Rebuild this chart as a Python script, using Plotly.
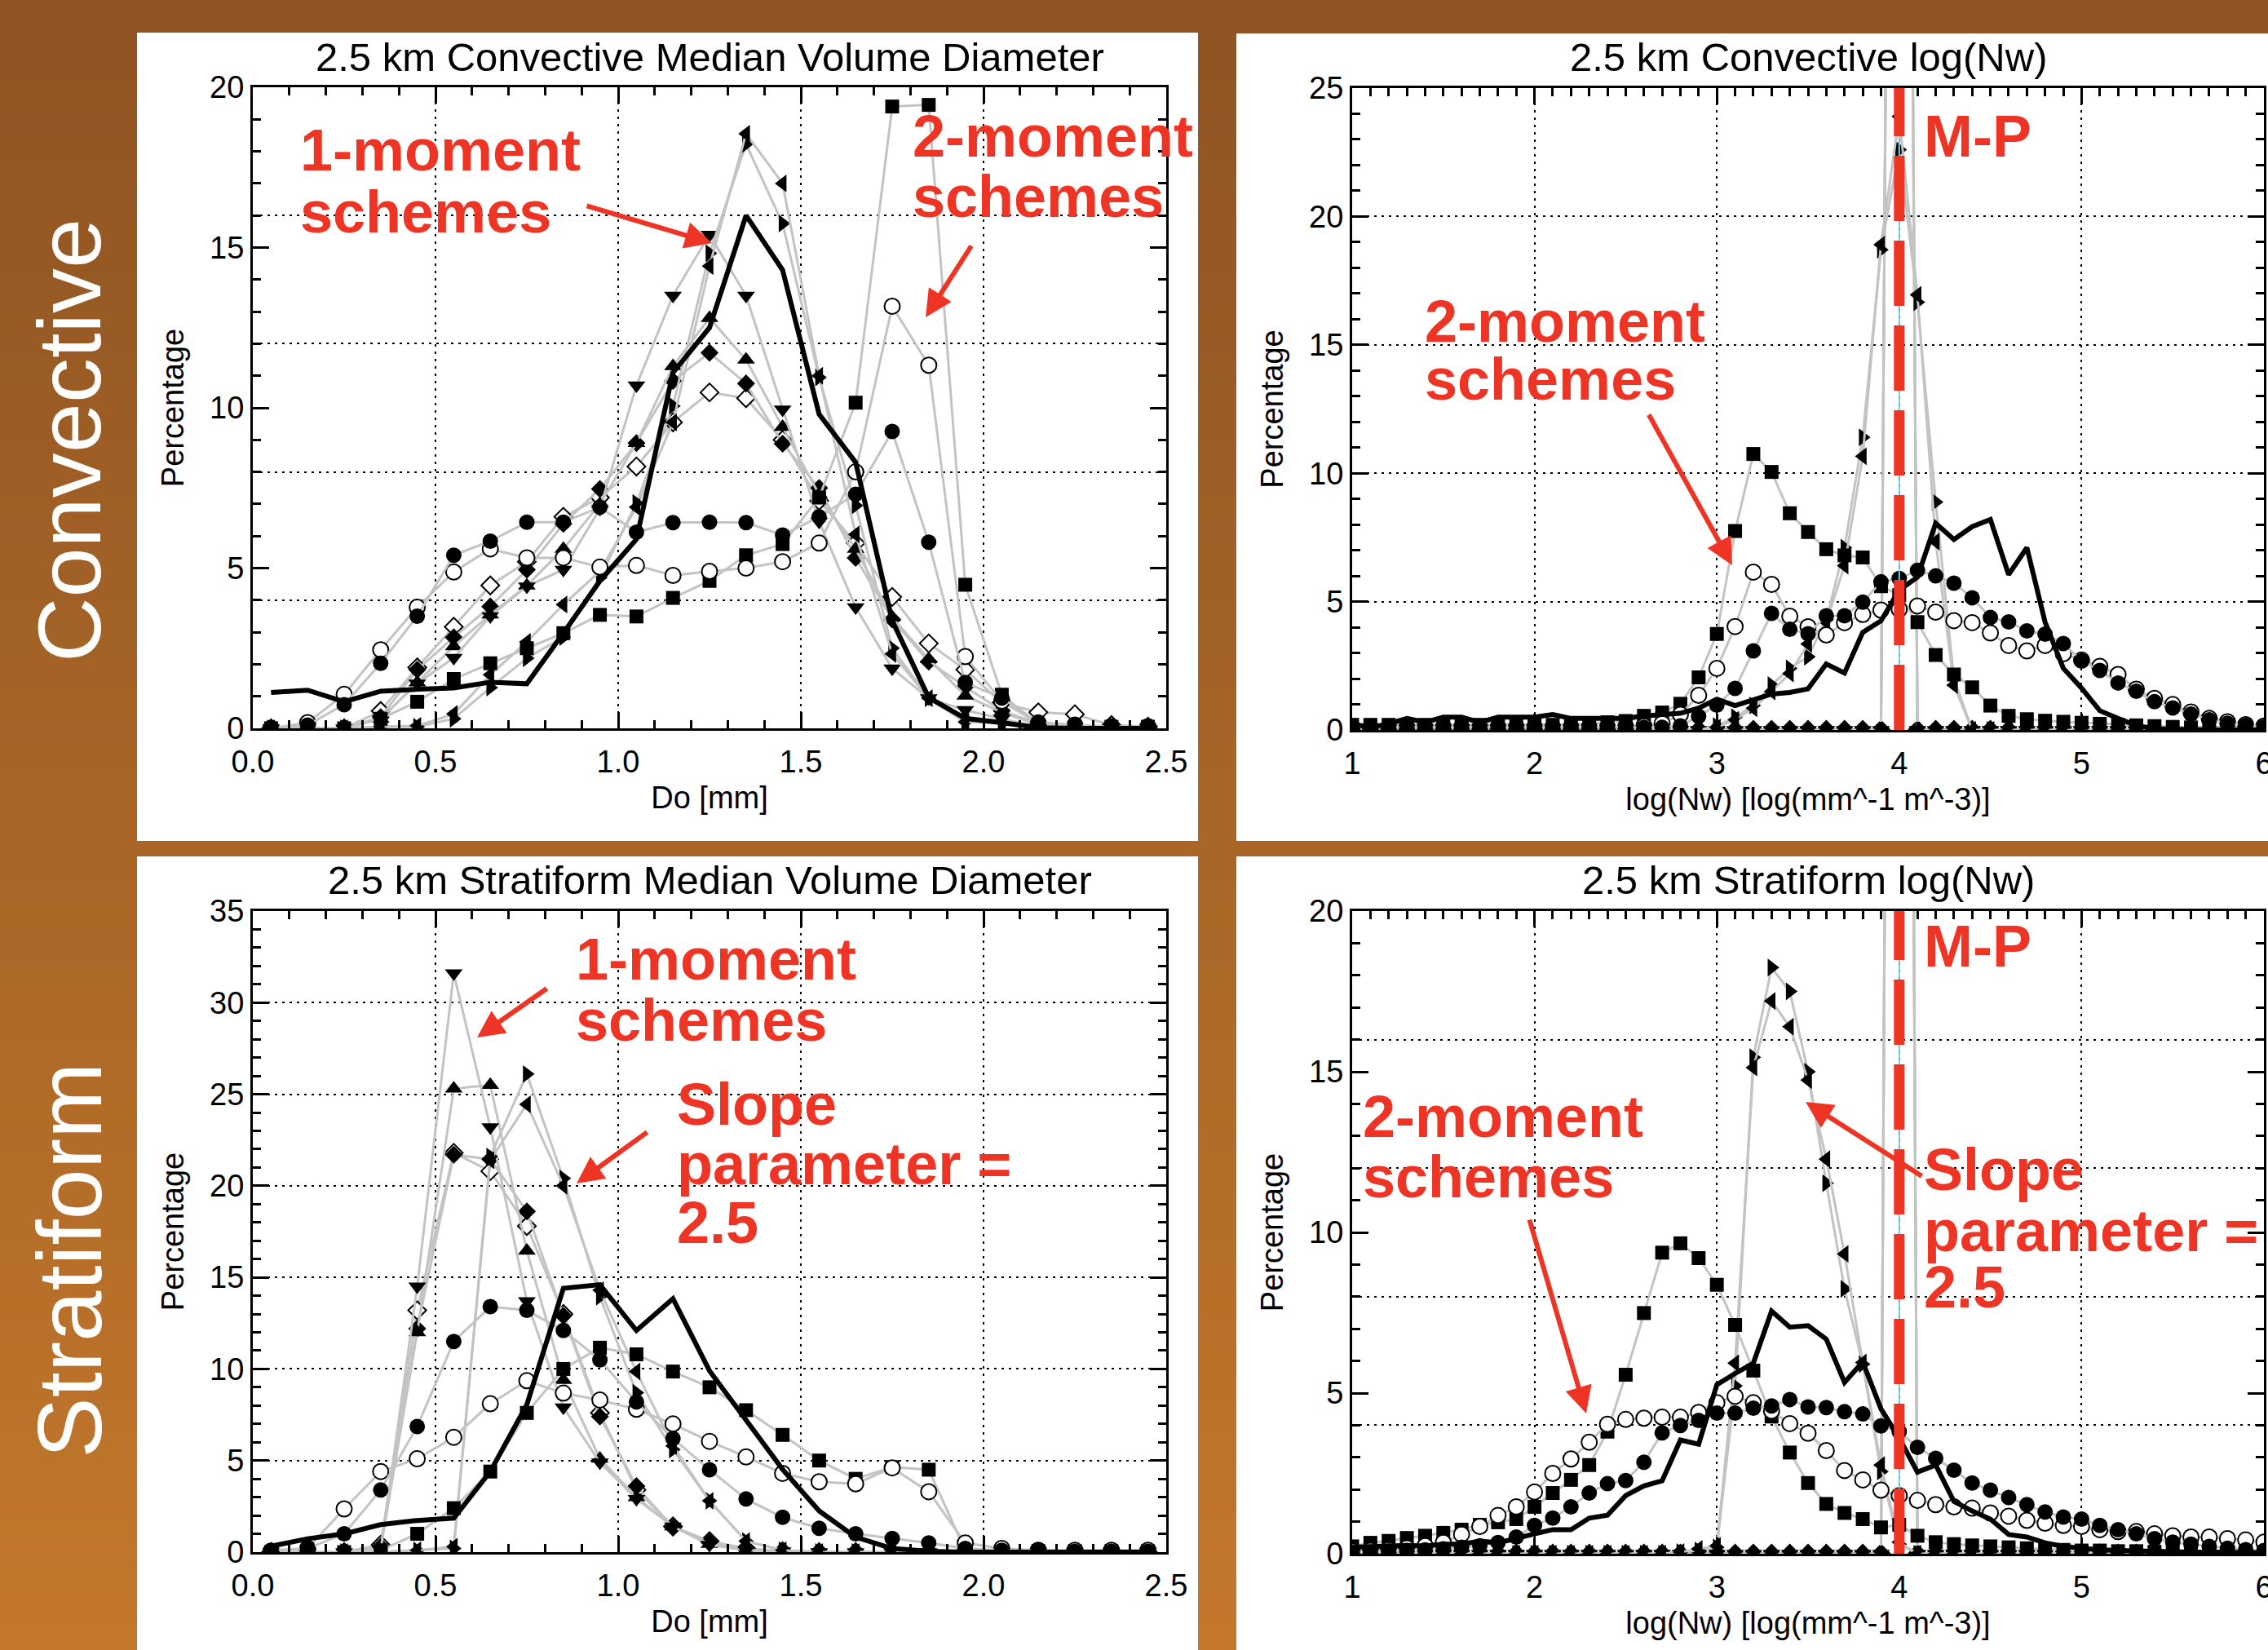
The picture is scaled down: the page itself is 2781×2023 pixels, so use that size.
import plotly.graph_objects as go

W, H = 2781, 2023
FONT = "Liberation Sans, Arial, Helvetica, sans-serif"
RED = "#EE3424"
GRAY = "#C3C3C3"

# ------------------------------------------------------------------ data
do_bins = [0.05, 0.15, 0.25, 0.35, 0.45, 0.55, 0.65, 0.75, 0.85, 0.95,
           1.05, 1.15, 1.25, 1.35, 1.45, 1.55, 1.65, 1.75, 1.85, 1.95,
           2.05, 2.15, 2.25, 2.35, 2.45]

nw_bins = [1.0, 1.1, 1.2, 1.3, 1.4, 1.5, 1.6, 1.7, 1.8, 1.9,
           2.0, 2.1, 2.2, 2.3, 2.4, 2.5, 2.6, 2.7, 2.8, 2.9,
           3.0, 3.1, 3.2, 3.3, 3.4, 3.5, 3.6, 3.7, 3.8, 3.9,
           4.0, 4.1, 4.2, 4.3, 4.4, 4.5, 4.6, 4.7, 4.8, 4.9,
           5.0, 5.1, 5.2, 5.3, 5.4, 5.5, 5.6, 5.7, 5.8, 5.9, 6.0]

mp_lognw = 4.0  # Marshall-Palmer reference value of log(Nw)

# --- Convective median volume diameter (percentage per Do bin)
conv_do_obs = [1.12, 1.19, 0.83, 1.16, 1.22, 1.26, 1.44, 1.39, 2.97, 4.6, 5.9, 11.1, 12.5,
               16.0, 14.3, 9.8, 8.3, 3.36, 0.96, 0.31, 0.18, 0.02, 0.0, 0.0, 0.0]
conv_do_sq = [0, 0, 0, 0.3, 0.83, 1.54, 2.03, 2.5, 2.97, 3.54, 3.49, 4.07, 4.6,
              5.4, 5.75, 7.2, 10.16, 19.4, 19.45, 4.48, 1.05, 0.1, 0.05, 0.05, 0.05]
conv_do_oc = [0, 0.18, 1.06, 2.45, 3.78, 4.88, 5.6, 5.32, 5.32, 5.03, 5.08, 4.77, 4.9,
              5.0, 5.2, 5.78, 8.0, 13.17, 11.33, 2.24, 0.85, 0.15, 0.1, 0.05, 0.05]
conv_do_fc = [0, 0.1, 0.74, 2.03, 3.5, 5.4, 5.84, 6.43, 6.43, 6.9, 6.12, 6.42, 6.43,
              6.42, 6.03, 6.6, 7.3, 9.26, 5.81, 1.43, 0.95, 0.2, 0.1, 0.05, 0.05]
conv_do_dn = [0, 0, 0, 0.3, 1.4, 2.2, 3.5, 4.43, 4.95, 6.85, 10.7, 13.5, 15.4,
              13.5, 9.95, 6.45, 3.78, 1.87, 0.94, 0.57, 0.3, 0.05, 0.02, 0, 0]
conv_do_up = [0, 0, 0, 0.3, 1.43, 2.56, 3.55, 4.45, 5.6, 7.0, 8.9, 11.3, 12.8,
              11.5, 9.4, 7.3, 5.6, 3.46, 2.16, 1.02, 0.5, 0.1, 0.05, 0.02, 0]
conv_do_fd = [0, 0, 0, 0.35, 1.83, 2.84, 3.8, 4.95, 6.38, 7.47, 8.9, 10.84, 11.72,
              10.76, 8.88, 7.5, 5.32, 3.4, 2.08, 1.3, 0.55, 0.15, 0.05, 0.02, 0]
conv_do_od = [0, 0, 0, 0.54, 1.9, 3.17, 4.46, 5.2, 6.6, 7.2, 8.17, 9.55, 10.48,
              10.3, 9.0, 7.1, 5.78, 4.1, 2.65, 1.83, 0.8, 0.5, 0.44, 0.1, 0.05]
conv_do_rt = [0, 0, 0, 0.05, 0.05, 0.3, 1.27, 2.19, 2.85, 4.7, 7.03, 10.06, 14.82,
              18.23, 15.75, 10.95, 6.95, 2.5, 0.94, 0.2, 0.15, 0.05, 0, 0, 0]
conv_do_lt = [0, 0, 0, 0.05, 0.08, 0.45, 1.67, 2.7, 3.86, 4.9, 6.9, 9.55, 14.42,
              18.55, 17.0, 11.0, 6.05, 2.32, 0.94, 0.2, 0.2, 0.05, 0, 0, 0]

# --- Stratiform median volume diameter
strat_do_obs = [0.32, 0.73, 1.0, 1.5, 1.73, 1.86, 4.4, 8.05, 14.4, 14.6, 12.1, 13.84, 9.9,
                7.25, 4.52, 2.25, 0.82, 0.2, 0.05, 0, 0, 0, 0, 0, 0]
strat_do_sq = [0, 0, 0, 0.1, 1.0, 2.4, 4.4, 7.6, 10.0, 11.16, 10.8, 9.86, 9.0,
               7.75, 6.4, 5.0, 4.0, 4.64, 4.5, 0.1, 0.05, 0.05, 0.05, 0.05, 0.05]
strat_do_oc = [0.05, 0.2, 2.36, 4.4, 5.1, 6.27, 8.1, 9.36, 8.68, 8.3, 7.8, 7.0, 6.05,
               5.2, 4.3, 3.84, 3.73, 4.6, 3.3, 0.5, 0.2, 0.1, 0.1, 0.1, 0.1]
strat_do_fc = [0.1, 0.2, 1.0, 3.39, 6.86, 11.5, 13.4, 13.2, 12.1, 10.5, 8.2, 6.2, 4.5,
               2.9, 1.9, 1.3, 1.0, 0.75, 0.5, 0.2, 0.1, 0.1, 0.05, 0.05, 0.05]
strat_do_dn = [0, 0, 0, 0.1, 14.5, 31.6, 23.2, 13.7, 7.9, 4.9, 2.9, 1.4, 0.4,
               0.1, 0.05, 0, 0, 0, 0, 0, 0, 0, 0, 0, 0]
strat_do_up = [0, 0, 0, 0.2, 12.0, 25.3, 25.5, 16.45, 9.4, 5.1, 3.0, 1.4, 0.45,
               0.1, 0.05, 0, 0, 0, 0, 0, 0, 0, 0, 0, 0]
strat_do_fd = [0, 0, 0, 0.3, 12.2, 21.7, 21.45, 18.6, 12.9, 7.4, 3.6, 1.35, 0.55,
               0.15, 0.05, 0, 0, 0, 0, 0, 0, 0, 0, 0, 0]
strat_do_od = [0, 0, 0, 0.4, 13.2, 21.8, 20.8, 17.8, 13.0, 7.6, 3.4, 1.4, 0.6,
               0.2, 0.05, 0, 0, 0, 0, 0, 0, 0, 0, 0, 0]
strat_do_rt = [0, 0, 0, 0, 0.1, 0.2, 21.6, 26.1, 20.4, 13.95, 8.7, 5.6, 2.8,
               0.6, 0.1, 0, 0, 0, 0, 0, 0, 0, 0, 0, 0]
strat_do_lt = [0, 0, 0, 0, 0.1, 0.3, 21.4, 24.45, 20.0, 14.3, 9.86, 5.8, 2.8,
               0.6, 0.1, 0, 0, 0, 0, 0, 0, 0, 0, 0, 0]

# --- Convective log(Nw)
conv_nw_obs = [0.24, 0.10, 0.24, 0.45, 0.30, 0.50, 0.50, 0.30, 0.50, 0.50,
               0.50, 0.60, 0.45, 0.45, 0.45, 0.45, 0.55, 0.60, 0.65, 0.85,
               1.20, 0.95, 1.20, 1.40, 1.46, 1.60, 2.57, 2.22, 3.80, 4.25,
               5.45, 5.95, 8.05, 7.42, 7.92, 8.20, 6.05, 7.10, 4.20, 2.40,
               1.63, 0.75, 0.45, 0.17, 0.05, 0.02, 0.0, 0.0, 0.0, 0.0, 0.0]
conv_nw_sq = [0.20, 0.20, 0.20, 0.20, 0.20, 0.20, 0.20, 0.20, 0.20, 0.20,
              0.20, 0.20, 0.22, 0.25, 0.30, 0.35, 0.55, 0.68, 1.02, 2.05,
              3.74, 7.75, 10.75, 10.05, 8.44, 7.71, 7.04, 6.80, 6.72, 5.60,
              5.25, 4.20, 2.92, 2.16, 1.66, 0.95, 0.55, 0.42, 0.36, 0.32,
              0.28, 0.24, 0.20, 0.18, 0.15, 0.12, 0.10, 0.10, 0.08, 0.08, 0.05]
conv_nw_oc = [0.10, 0.10, 0.10, 0.10, 0.10, 0.10, 0.10, 0.10, 0.10, 0.10,
              0.10, 0.10, 0.10, 0.10, 0.10, 0.12, 0.15, 0.25, 0.60, 1.35,
              2.40, 4.03, 6.15, 5.67, 4.43, 4.02, 3.70, 4.18, 4.50, 4.67,
              4.70, 4.83, 4.59, 4.26, 4.18, 3.78, 3.29, 3.08, 3.29, 2.97,
              2.72, 2.48, 2.16, 1.59, 1.23, 0.99, 0.70, 0.45, 0.32, 0.21, 0.15]
conv_nw_fc = [0.10, 0.10, 0.10, 0.10, 0.10, 0.10, 0.10, 0.10, 0.10, 0.10,
              0.10, 0.10, 0.10, 0.10, 0.10, 0.10, 0.10, 0.10, 0.16, 0.53,
              0.97, 1.62, 3.08, 4.54, 3.92, 3.75, 4.45, 4.45, 4.98, 5.77,
              5.90, 6.22, 6.00, 5.72, 5.15, 4.38, 4.21, 3.86, 3.73, 3.37,
              2.69, 2.32, 1.83, 1.51, 1.10, 0.86, 0.62, 0.40, 0.26, 0.18, 0.12]
conv_nw_rt = [0, 0, 0, 0, 0, 0, 0, 0, 0, 0,
              0, 0, 0, 0, 0, 0, 0, 0, 0, 0,
              0.15, 0.50, 0.95, 1.75, 2.40, 2.85, 4.30, 7.10, 11.40, 18.70,
              22.60, 16.66, 8.88, 2.00, 0, 0, 0, 0, 0, 0,
              0, 0, 0, 0, 0, 0, 0, 0, 0, 0, 0]
conv_nw_lt = [0, 0, 0, 0, 0, 0, 0, 0, 0, 0,
              0, 0, 0, 0, 0, 0, 0, 0, 0, 0,
              0.10, 0.40, 0.85, 1.50, 2.20, 3.35, 4.20, 6.40, 10.66, 18.90,
              23.90, 16.95, 7.34, 1.75, 0, 0, 0, 0, 0, 0,
              0, 0, 0, 0, 0, 0, 0, 0, 0, 0, 0]
# 1-moment schemes (down/up triangles, diamonds) put every point in the M-P bin
conv_nw_1mom = [0, 0, 0, 0, 0, 0, 0, 0, 0, 0,
                0, 0, 0, 0, 0, 0, 0, 0, 0, 0,
                0, 0, 0, 0, 0, 0, 0, 0, 0, 0,
                100, 0, 0, 0, 0, 0, 0, 0, 0, 0,
                0, 0, 0, 0, 0, 0, 0, 0, 0, 0, 0]

# --- Stratiform log(Nw)
strat_nw_obs = [0.20, 0.23, 0.23, 0.26, 0.24, 0.30, 0.30, 0.39, 0.34, 0.49,
                0.62, 0.75, 0.75, 1.11, 1.20, 1.81, 2.11, 2.27, 3.54, 3.41,
                5.26, 5.61, 5.93, 7.55, 7.05, 7.10, 6.68, 5.33, 5.97, 4.51,
                3.60, 2.54, 2.76, 1.63, 1.33, 1.08, 0.60, 0.52, 0.34, 0.23,
                0.17, 0.12, 0.10, 0.08, 0.07, 0.06, 0.05, 0.05, 0.04, 0.04, 0.03]
strat_nw_sq = [0.23, 0.34, 0.40, 0.49, 0.56, 0.65, 0.75, 0.90, 0.98, 1.08,
               1.46, 1.89, 2.30, 2.76, 3.80, 5.57, 7.49, 9.37, 9.66, 9.20,
               8.37, 7.12, 5.70, 4.27, 3.15, 2.20, 1.55, 1.27, 1.08, 0.82,
               0.90, 0.56, 0.36, 0.30, 0.26, 0.23, 0.20, 0.17, 0.14, 0.12,
               0.10, 0.10, 0.08, 0.08, 0.06, 0.06, 0.05, 0.05, 0.04, 0.04, 0.03]
strat_nw_oc = [0.08, 0.10, 0.12, 0.18, 0.25, 0.35, 0.60, 0.85, 1.19, 1.46,
               1.92, 2.50, 2.95, 3.47, 4.03, 4.18, 4.22, 4.25, 4.25, 4.40,
               4.70, 4.90, 4.70, 4.44, 4.05, 3.75, 3.21, 2.59, 2.30, 1.98,
               1.81, 1.66, 1.53, 1.46, 1.42, 1.27, 1.17, 1.04, 0.95, 0.88,
               0.85, 0.75, 0.69, 0.69, 0.62, 0.56, 0.52, 0.52, 0.47, 0.43, 0.36]
strat_nw_fc = [0.05, 0.05, 0.08, 0.10, 0.12, 0.15, 0.20, 0.25, 0.35, 0.52,
               0.88, 1.11, 1.46, 1.89, 2.18, 2.28, 2.85, 3.76, 3.99, 4.15,
               4.38, 4.38, 4.53, 4.60, 4.80, 4.57, 4.55, 4.42, 4.35, 3.98,
               3.80, 3.31, 2.97, 2.60, 2.20, 1.98, 1.75, 1.53, 1.30, 1.14,
               1.08, 0.88, 0.75, 0.62, 0.47, 0.36, 0.30, 0.23, 0.17, 0.13, 0.10]
strat_nw_rt = [0, 0, 0, 0, 0, 0, 0, 0, 0, 0,
               0, 0, 0, 0, 0, 0, 0, 0, 0.05, 0.10,
               0.20, 5.22, 15.45, 18.24, 17.50, 15.00, 11.53, 8.24, 5.90, 2.56,
               0.30, 0, 0, 0, 0, 0, 0, 0, 0, 0,
               0, 0, 0, 0, 0, 0, 0, 0, 0, 0, 0]
strat_nw_lt = [0, 0, 0, 0, 0, 0, 0, 0, 0, 0,
               0, 0, 0, 0, 0, 0, 0, 0, 0.05, 0.15,
               0.25, 5.93, 15.13, 17.20, 16.40, 14.74, 12.28, 9.33, 5.95, 2.76,
               0.36, 0, 0, 0, 0, 0, 0, 0, 0, 0,
               0, 0, 0, 0, 0, 0, 0, 0, 0, 0, 0]
strat_nw_1mom = [0, 0, 0, 0, 0, 0, 0, 0, 0, 0,
                 0, 0, 0, 0, 0, 0, 0, 0, 0, 0,
                 0, 0, 0, 0, 0, 0, 0, 0, 0, 0,
                 100, 0, 0, 0, 0, 0, 0, 0, 0, 0,
                 0, 0, 0, 0, 0, 0, 0, 0, 0, 0, 0]

# ------------------------------------------------------------------ styles
MARKERS = {
    "sq": dict(symbol="square", size=17, color="black"),
    "oc": dict(symbol="circle", size=19, color="white", line=dict(color="black", width=2)),
    "fc": dict(symbol="circle", size=19, color="black"),
    "dn": dict(symbol="triangle-down", size=19, color="black"),
    "up": dict(symbol="triangle-up", size=19, color="black"),
    "fd": dict(symbol="diamond", size=17, color="black"),
    "od": dict(symbol="diamond", size=17, color="white", line=dict(color="black", width=2)),
    "rt": dict(symbol="triangle-right", size=19, color="black"),
    "lt": dict(symbol="triangle-left", size=19, color="black"),
}


def px2x(p):
    return p / W


def px2y(p):
    return 1 - p / H


# plot-area boxes in pixels (left, top, right, bottom)
BOX_TL = (310, 107, 1430, 893)
BOX_TR = (1658, 108, 2776, 895)
BOX_BL = (310, 1117, 1430, 1903)
BOX_BR = (1658, 1117, 2776, 1905)


def dom_x(b):
    return [px2x(b[0]), px2x(b[2])]


def dom_y(b):
    return [px2y(b[3]), px2y(b[1])]


fig = go.Figure()


def add_panel(xa, ya, bins, obs, series):
    for key, vals in series:
        fig.add_trace(go.Scatter(
            x=bins, y=vals, mode="lines+markers", xaxis=xa, yaxis=ya,
            line=dict(color=GRAY, width=3), marker=MARKERS[key],
            showlegend=False, hoverinfo="skip"))
    fig.add_trace(go.Scatter(
        x=bins, y=obs, mode="lines", xaxis=xa, yaxis=ya,
        line=dict(color="black", width=6), showlegend=False, hoverinfo="skip"))


add_panel("x", "y", do_bins, conv_do_obs, [
    ("od", conv_do_od), ("fd", conv_do_fd), ("up", conv_do_up), ("dn", conv_do_dn),
    ("rt", conv_do_rt), ("lt", conv_do_lt), ("sq", conv_do_sq), ("oc", conv_do_oc),
    ("fc", conv_do_fc)])
add_panel("x2", "y2", nw_bins, conv_nw_obs, [
    ("od", conv_nw_1mom), ("fd", conv_nw_1mom), ("up", conv_nw_1mom), ("dn", conv_nw_1mom),
    ("rt", conv_nw_rt), ("lt", conv_nw_lt), ("sq", conv_nw_sq), ("oc", conv_nw_oc),
    ("fc", conv_nw_fc)])
add_panel("x3", "y3", do_bins, strat_do_obs, [
    ("od", strat_do_od), ("fd", strat_do_fd), ("up", strat_do_up), ("dn", strat_do_dn),
    ("rt", strat_do_rt), ("lt", strat_do_lt), ("sq", strat_do_sq), ("oc", strat_do_oc),
    ("fc", strat_do_fc)])
add_panel("x4", "y4", nw_bins, strat_nw_obs, [
    ("od", strat_nw_1mom), ("fd", strat_nw_1mom), ("up", strat_nw_1mom), ("dn", strat_nw_1mom),
    ("rt", strat_nw_rt), ("lt", strat_nw_lt), ("sq", strat_nw_sq), ("oc", strat_nw_oc),
    ("fc", strat_nw_fc)])

# empty traces that activate the overlay grid axes
fig.add_trace(go.Scatter(x=[], y=[], xaxis="x", yaxis="y5", showlegend=False, hoverinfo="skip"))
fig.add_trace(go.Scatter(x=[], y=[], xaxis="x4", yaxis="y6", showlegend=False, hoverinfo="skip"))

TICKFONT = dict(family=FONT, size=38, color="black")
TITLEFONT = dict(family=FONT, size=38, color="black")
GRID = dict(gridcolor="black", gridwidth=2, griddash="3px,6px")


def make_x(box, rng, dtick, minor, fmt, title, anchor):
    d = dict(domain=dom_x(box), range=rng, autorange=False, tick0=rng[0], dtick=dtick,
             tickformat=fmt, ticks="inside", ticklen=20, tickwidth=3, tickcolor="black",
             minor=dict(dtick=minor, tick0=rng[0], ticks="inside", ticklen=10, tickwidth=3,
                        tickcolor="black", showgrid=False),
             showline=True, linecolor="black", linewidth=3, mirror="ticks",
             showgrid=True, zeroline=False, tickfont=TICKFONT, ticklabelstandoff=5,
             ticklabeloverflow="allow", automargin=False,
             title=dict(text=title, font=TITLEFONT, standoff=11), anchor=anchor)
    d.update(GRID)
    return d


def make_y(box, rng, grid, anchor):
    d = dict(domain=dom_y(box), range=rng, autorange=False, tick0=0, dtick=5,
             ticks="inside", ticklen=20, tickwidth=3, tickcolor="black",
             minor=dict(dtick=1, tick0=0, ticks="inside", ticklen=10, tickwidth=3,
                        tickcolor="black", showgrid=False),
             showline=True, linecolor="black", linewidth=3, mirror="ticks",
             showgrid=grid, zeroline=False, tickfont=TICKFONT, ticklabelstandoff=0,
             ticklabeloverflow="allow", automargin=False,
             title=dict(text="Percentage", font=TITLEFONT, standoff=20), anchor=anchor)
    d.update(GRID)
    return d


def make_grid_overlay(main, rng, vals, anchor):
    d = dict(overlaying=main, range=rng, autorange=False, tickmode="array", tickvals=vals,
             showticklabels=False, ticks="", showline=False, zeroline=False,
             showgrid=True, anchor=anchor, automargin=False)
    d.update(GRID)
    return d


NW_TITLE = "log(Nw) [log(mm^-1 m^-3)]"
fig.update_layout(
    xaxis=make_x(BOX_TL, [0, 2.5], 0.5, 0.1, ".1f", "Do [mm]", "y"),
    yaxis=make_y(BOX_TL, [0, 20], False, "x"),
    xaxis2=make_x(BOX_TR, [1, 6], 1, 0.1, "d", NW_TITLE, "y2"),
    yaxis2=make_y(BOX_TR, [0, 25], True, "x2"),
    xaxis3=make_x(BOX_BL, [0, 2.5], 0.5, 0.1, ".1f", "Do [mm]", "y3"),
    yaxis3=make_y(BOX_BL, [0, 35], True, "x3"),
    xaxis4=make_x(BOX_BR, [1, 6], 1, 0.1, "d", NW_TITLE, "y4"),
    yaxis4=make_y(BOX_BR, [0, 20], False, "x4"),
    yaxis5=make_grid_overlay("y", [0, 20], [4, 8, 12, 16], "x"),
    yaxis6=make_grid_overlay("y4", [0, 20], [4, 8, 12, 16], "x4"),
)

# ------------------------------------------------------------------ background
shapes = []
N_BANDS = 60
top_c, bot_c = (143, 84, 35), (194, 119, 43)
for i in range(N_BANDS):
    f = i / (N_BANDS - 1)
    c = tuple(round(top_c[k] + (bot_c[k] - top_c[k]) * f) for k in range(3))
    shapes.append(dict(type="rect", xref="paper", yref="paper", layer="below",
                       x0=0, x1=1, y0=1 - (i + 1) / N_BANDS - 0.002, y1=1 - i / N_BANDS,
                       fillcolor="rgb(%d,%d,%d)" % c, line=dict(width=0)))
for (l, t, r, b) in [(168, 40, 1469, 1031), (1516, 41, 2781, 1031),
                     (168, 1050, 1469, 2023), (1516, 1050, 2781, 2023)]:
    shapes.append(dict(type="rect", xref="paper", yref="paper", layer="below",
                       x0=px2x(l), x1=px2x(r), y0=px2y(b), y1=px2y(t),
                       fillcolor="white", line=dict(width=0)))
# M-P reference lines
for xa, ya in [("x2", "y2"), ("x4", "y4")]:
    shapes.append(dict(type="line", xref=xa, yref=ya + " domain", x0=mp_lognw, x1=mp_lognw,
                       y0=0, y1=1, layer="above", line=dict(color="#7CC8EC", width=2)))
    shapes.append(dict(type="line", xref=xa, yref=ya + " domain", x0=mp_lognw, x1=mp_lognw,
                       y0=0, y1=1, layer="above", line=dict(color=RED, width=13, dash="80px,24px")))

# ------------------------------------------------------------------ annotations
ann = []


def title(box, yc, text):
    ann.append(dict(text=text, x=px2x((box[0] + box[2]) / 2), y=px2y(yc), xref="paper",
                    yref="paper", xanchor="center", yanchor="middle", showarrow=False,
                    font=dict(family=FONT, size=49, color="black")))


title(BOX_TL, 70, "2.5 km Convective Median Volume Diameter")
title(BOX_TR, 70, "2.5 km Convective log(Nw)")
title(BOX_BL, 1079, "2.5 km Stratiform Median Volume Diameter")
title(BOX_BR, 1079, "2.5 km Stratiform log(Nw)")


def red(text, left, yc):
    ann.append(dict(text=text, x=px2x(left), y=px2y(yc), xref="paper", yref="paper",
                    xanchor="left", yanchor="middle", showarrow=False,
                    font=dict(family=FONT, size=72, color=RED, weight="bold")))


def arrow(tail, head):
    ann.append(dict(text="", x=px2x(head[0]), y=px2y(head[1]), xref="paper", yref="paper",
                    ax=tail[0] - head[0], ay=tail[1] - head[1], axref="pixel", ayref="pixel",
                    showarrow=True, arrowcolor=RED, arrowwidth=6, arrowhead=2, arrowsize=1.1,
                    standoff=0))


red("1-moment", 366, 184)
red("schemes", 366, 260)
arrow((718, 252), (873, 298))
red("2-moment", 1117, 167)
red("schemes", 1117, 241)
arrow((1192, 300), (1135, 389))

red("M-P", 2357, 167)
red("2-moment", 1745, 394)
red("schemes", 1745, 465)
arrow((2021, 507), (2124, 693))

red("1-moment", 704, 1176)
red("schemes", 704, 1251)
arrow((672, 1211), (585, 1272))
red("Slope", 828, 1354)
red("parameter =", 828, 1427)
red("2.5", 828, 1499)
arrow((795, 1387), (707, 1451))

red("M-P", 2357, 1160)
red("2-moment", 1669, 1369)
red("schemes", 1669, 1443)
arrow((1875, 1494), (1945, 1733))
red("Slope", 2357, 1434)
red("parameter =", 2357, 1509)
red("2.5", 2357, 1578)
arrow((2358, 1443), (2214, 1351))

for text, yc, size in [("Convective", 540, 110), ("Stratiform", 1546, 112)]:
    ann.append(dict(text=text, x=px2x(85), y=px2y(yc), xref="paper", yref="paper",
                    xanchor="center", yanchor="middle", showarrow=False, textangle=-90,
                    font=dict(family=FONT, size=size, color="white")))

fig.update_layout(
    width=W, height=H, margin=dict(l=0, r=0, t=0, b=0, pad=0, autoexpand=False),
    paper_bgcolor="rgb(168,100,39)", plot_bgcolor="rgba(0,0,0,0)",
    shapes=shapes, annotations=ann, showlegend=False, hovermode=False,
    font=dict(family=FONT, color="black"),
)

fig.write_html("out.html", config={"displayModeBar": False, "responsive": False},
               post_script="document.body.style.margin='0px';")
